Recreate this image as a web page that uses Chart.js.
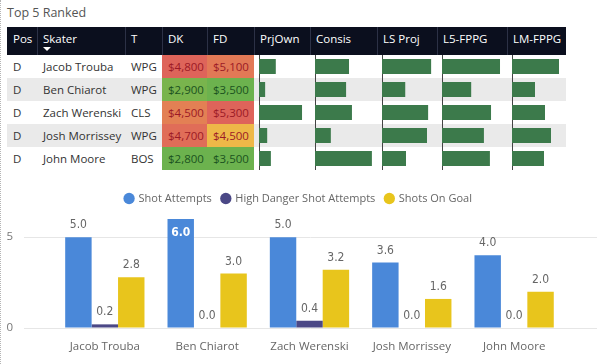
<!DOCTYPE html>
<html>
<head>
<meta charset="utf-8">
<script src="https://cdn.jsdelivr.net/npm/chart.js@4.4.1/dist/chart.umd.min.js"></script>
<style>
  body { margin: 0; width: 600px; height: 364px; background: #fff; position: relative; overflow: hidden; font-family: "Open Sans", sans-serif; }
  #edge { position: absolute; left: 0; top: 0; width: 1px; height: 364px; border-left: 1px dotted #b5b5b5; }
  #title { position: absolute; left: 7px; top: 4px; font-size: 12.5px; color: #555; }
  table { position: absolute; left: 7px; top: 27px; border-collapse: collapse; table-layout: fixed; font-size: 11.5px; }
  th, td { box-sizing: border-box; padding: 0 0 0 6px; text-align: left; white-space: nowrap; overflow: hidden; }
  th { background: #0b0f1e; color: #fff; font-weight: normal; height: 28px; line-height: 24px; vertical-align: top; position: relative; }
  th + th { box-shadow: inset 1px 0 #2c3146; }
  td { height: 23px; line-height: 23px; color: #333; }
  tr.alt td { background: #eaeaea; }
  .sort { position: absolute; left: 6px; top: 20px; width: 0; height: 0; border-left: 4px solid transparent; border-right: 4px solid transparent; border-top: 4px solid #fff; }
  canvas.mini { position: absolute; }
  #shots { position: absolute; left: 0; top: 183px; }
</style>
</head>
<body>
<div id="edge"></div>
<div id="title">Top 5 Ranked</div>
<table id="tbl"></table>
<canvas id="shots" width="600" height="181"></canvas>
<script>
const skaters = ['Jacob Trouba', 'Ben Chiarot', 'Zach Werenski', 'Josh Morrissey', 'John Moore'];
const positions = ['D', 'D', 'D', 'D', 'D'];
const teams = ['WPG', 'WPG', 'CLS', 'WPG', 'BOS'];
const dkSalary = [4800, 2900, 4500, 4700, 2800];
const fdSalary = [5100, 3500, 5300, 4500, 3500];
const prjOwn = [4.1, 1.5, 10.5, 2.0, 2.9];
const consis = [58, 53, 63, 27, 97];
const lsProj = [13.1, 6.2, 12.3, 12.0, 6.4];
const l5Fppg = [15.5, 7.8, 13.1, 11.2, 12.8];
const lmFppg = [14.1, 6.9, 9.9, 11.7, 9.6];

const shotAttempts = [5.0, 6.0, 5.0, 3.6, 4.0];
const highDanger = [0.2, 0.0, 0.4, 0.0, 0.0];
const shotsOnGoal = [2.8, 3.0, 3.2, 1.6, 2.0];
const yTicks = [0, 5];

const headers = ['Pos', 'Skater', 'T', 'DK', 'FD', 'PrjOwn', 'Consis', 'LS Proj', 'L5-FPPG', 'LM-FPPG'];
const colWidths = [30, 88, 37, 45, 47, 56, 67, 60, 70, 59];

// red / yellow / green scale like the power bi conditional formatting
const green = [108, 178, 78], yellow = [240, 194, 70], red = [222, 100, 90];
function mix(a, b, t) { return a.map((c, i) => Math.round(c + (b[i] - c) * t)); }
function salaryColor(v, arr) {
  const lo = Math.min(...arr), hi = Math.max(...arr);
  const t = (v - lo) / (hi - lo);
  const c = t < 0.5 ? mix(green, yellow, t * 2) : mix(yellow, red, (t - 0.5) * 2);
  return { bg: 'rgb(' + c.join(',') + ')', fg: t > 0.5 ? '#9c1a26' : '#1b5220' };
}
const money = v => '$' + v.toLocaleString('en-US');

const tbl = document.getElementById('tbl');
let html = '<colgroup>' + colWidths.map(w => '<col style="width:' + w + 'px">').join('') + '</colgroup><tr>';
headers.forEach((h, i) => {
  html += '<th>' + h + (i === 1 ? '<span class="sort"></span>' : '') + '</th>';
});
html += '</tr>';
skaters.forEach((s, i) => {
  const dk = salaryColor(dkSalary[i], dkSalary), fd = salaryColor(fdSalary[i], fdSalary);
  html += '<tr class="' + (i % 2 ? 'alt' : '') + '"><td>' + positions[i] + '</td><td>' + s + '</td><td>' + teams[i] + '</td>' +
    '<td style="background:' + dk.bg + ';color:' + dk.fg + '">' + money(dkSalary[i]) + '</td>' +
    '<td style="background:' + fd.bg + ';color:' + fd.fg + '">' + money(fdSalary[i]) + '</td>' +
    '<td></td><td></td><td></td><td></td><td></td></tr>';
});
tbl.innerHTML = html;

// data bars in the table, one small chart per column
const barCols = [
  { col: 5, data: prjOwn, max: 12.2 },
  { col: 6, data: consis, max: 104 },
  { col: 7, data: lsProj, max: 14.4 },
  { col: 8, data: l5Fppg, max: 17.1 },
  { col: 9, data: lmFppg, max: 15.9 }
];
barCols.forEach(bc => {
  const left = 7 + colWidths.slice(0, bc.col).reduce((a, b) => a + b, 0) + 5;
  const cv = document.createElement('canvas');
  cv.className = 'mini';
  cv.width = colWidths[bc.col] - 6;
  cv.height = 115;
  cv.style.left = left + 'px';
  cv.style.top = '55px';
  document.body.appendChild(cv);
  new Chart(cv, {
    type: 'bar',
    data: { labels: skaters, datasets: [{ data: bc.data, backgroundColor: '#3c7a4b', barPercentage: 0.65, categoryPercentage: 1 }] },
    options: {
      indexAxis: 'y', responsive: false, animation: false, events: [],
      layout: { padding: 0 },
      plugins: { legend: { display: false }, tooltip: { enabled: false } },
      scales: {
        x: { display: false, min: 0, max: bc.max },
        y: { ticks: { display: false }, grid: { display: false, drawTicks: false }, border: { color: '#444', dash: [2, 2] } }
      }
    }
  });
});

const font = { family: '"Open Sans", sans-serif', size: 11.5 };

const valueLabels = {
  id: 'valueLabels',
  afterDatasetsDraw(chart) {
    const { ctx, chartArea } = chart;
    ctx.save();
    ctx.textAlign = 'center';
    chart.data.datasets.forEach((ds, di) => {
      chart.getDatasetMeta(di).data.forEach((el, i) => {
        const txt = ds.data[i].y.toFixed(1);
        if (el.y - 14 < chartArea.top) {
          ctx.font = 'bold 12px "Liberation Sans Narrow", "DejaVu Sans Condensed", sans-serif';
          ctx.fillStyle = '#fff';
          ctx.textBaseline = 'top';
          ctx.fillText(txt, el.x, el.y + 8);
        } else {
          ctx.font = '12px "Liberation Sans Narrow", "DejaVu Sans Condensed", sans-serif';
          ctx.fillStyle = '#666';
          ctx.textBaseline = 'bottom';
          ctx.fillText(txt, el.x, el.y - 6);
        }
      });
    });
    ctx.restore();
  }
};

// a little more room under the legend
const legendGap = {
  id: 'legendGap',
  beforeInit(chart) {
    const fit = chart.legend.fit;
    chart.legend.fit = function () { fit.call(this); this.height += 5; };
  }
};

const toPoints = arr => arr.map((v, i) => ({ x: i, y: v }));

new Chart(document.getElementById('shots'), {
  type: 'bar',
  data: {
    datasets: [
      { label: 'Shot Attempts', data: toPoints(shotAttempts), backgroundColor: '#4a88d9' },
      { label: 'High Danger Shot Attempts', data: toPoints(highDanger), backgroundColor: '#4b4886' },
      { label: 'Shots On Goal', data: toPoints(shotsOnGoal), backgroundColor: '#e8c51c' }
    ]
  },
  options: {
    responsive: false, animation: false, events: [],
    datasets: { bar: { barPercentage: 1, categoryPercentage: 0.775 } },
    layout: { padding: { top: 0, right: 3, bottom: 10, left: 0 } },
    plugins: {
      tooltip: { enabled: false },
      legend: {
        labels: { usePointStyle: true, pointStyle: 'circle', boxWidth: 8, boxHeight: 8, padding: 10, color: '#666', font: { family: font.family, size: 11 } }
      }
    },
    scales: {
      x: {
        type: 'linear', min: -0.79, max: 4.81, offset: false,
        afterBuildTicks: s => { s.ticks = skaters.map((_, i) => ({ value: i })); },
        afterFit: s => { s.height = 26; },
        ticks: { callback: v => skaters[v], autoSkip: false, maxRotation: 0, color: '#666', padding: 12, font: font },
        grid: { display: false, offset: false, drawTicks: false },
        border: { display: false }
      },
      y: {
        min: 0, max: 6,
        afterBuildTicks: s => { s.ticks = yTicks.map(v => ({ value: v })); },
        afterFit: s => { s.width = 24; },
        ticks: { color: '#777', padding: 11, font: font },
        grid: { color: '#e6e6e6', drawTicks: false },
        border: { display: false }
      }
    }
  },
  plugins: [valueLabels, legendGap]
});
</script>
</body>
</html>
